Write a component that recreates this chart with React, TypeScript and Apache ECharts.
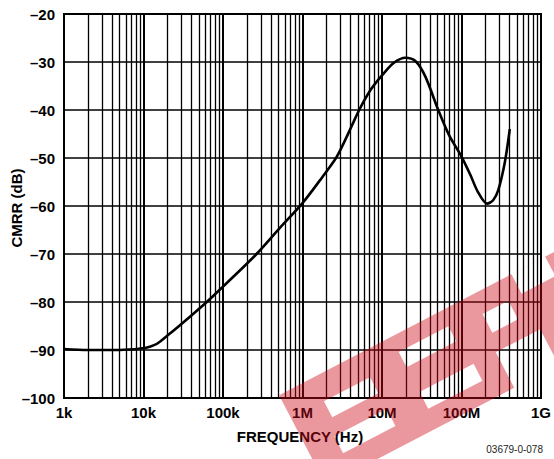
import React, { useEffect, useRef } from "react";
import * as echarts from "echarts";

// ---- data ----
const freqHz = [
  1e3, 2e3, 5e3, 9.2e3, 1.2e4, 1.48e4, 2e4, 2.9e4, 6.25e4, 1e5, 2.64e5, 5.16e5,
  1e6, 1.79e6, 2.64e6, 3.19e6, 4.25e6, 5.16e6, 7.2e6, 1e7, 1.4e7, 1.97e7, 2.63e7,
  3.5e7, 5.1e7, 7e7, 1e8, 1.3e8, 1.6e8, 2.1e8, 2.5e8, 2.9e8, 3.5e8, 4.05e8,
];
const cmrrDb = [
  -89.8, -90.0, -90.0, -89.7, -89.3, -88.7, -87.0, -84.8, -80.0, -76.8, -70.0, -64.6,
  -59.4, -53.9, -50.0, -47.4, -43.0, -40.0, -35.8, -32.8, -30.2, -29.1, -29.8,
  -33.0, -40.0, -45.3, -49.7, -53.6, -57.0, -59.5, -58.8, -56.7, -51.0, -44.0,
];
const decadeValues = [1e3, 1e4, 1e5, 1e6, 1e7, 1e8, 1e9];
const decadeLabels = ["1k", "10k", "100k", "1M", "10M", "100M", "1G"];
const minorMultipliers = [2, 3, 4, 5, 6, 7, 8, 9];
const yTicks = [-100, -90, -80, -70, -60, -50, -40, -30, -20];

const FONT = "Liberation Sans, Arial, Helvetica, sans-serif";

// watermark shape (local coords), outer band with rectangular holes
const wmOuter = [0, -2, 340, 100];
const wmHoles = [
  [37, 24, 89, 42],
  [30, 60, 89, 79],
  [126, 15, 182, 32],
  [126, 60, 187, 79],
  [218, 20, 247, 41],
  [212, 60, 262, 100],
  [262, -2, 300, 20],
];

function buildWatermarkPath() {
  const [a, b, c, d] = wmOuter;
  let p = `M${a} ${b} L${c} ${b} L${c} ${d} L${a} ${d} Z `;
  for (const [u1, v1, u2, v2] of wmHoles) {
    p += `M${u1} ${v1} L${u1} ${v2} L${u2} ${v2} L${u2} ${v1} Z `;
  }
  return p;
}

let registered = false;

export default function App() {
  const ref = useRef<HTMLDivElement>(null);

  useEffect(() => {
    if (!ref.current) return;
    if (!registered) {
      echarts.graphic.registerShape(
        "eepwmark",
        echarts.graphic.extendPath(buildWatermarkPath(), {})
      );
      registered = true;
    }
    const chart = echarts.init(ref.current, undefined, { renderer: "svg" });

    const minorLines: any[] = [];
    for (let i = 0; i < decadeValues.length - 1; i++) {
      for (const m of minorMultipliers) {
        minorLines.push({ xAxis: decadeValues[i] * m });
      }
    }

    const labelFor = (v: number) => {
      const idx = decadeValues.findIndex((d) => Math.abs(Math.log10(d) - Math.log10(v)) < 1e-6);
      return idx >= 0 ? decadeLabels[idx] : "";
    };

    chart.setOption({
      animation: false,
      backgroundColor: "#fff",
      grid: {
        left: 64,
        top: 14,
        right: 11,
        bottom: 61,
        show: true,
        borderColor: "#000",
        borderWidth: 2,
        backgroundColor: "transparent",
      },
      xAxis: {
        type: "log",
        logBase: 10,
        min: 1e3,
        max: 1e9,
        splitNumber: 6,
        axisLine: { show: true, lineStyle: { color: "#000", width: 2 } },
        axisTick: { show: false },
        axisLabel: {
          color: "#000",
          fontFamily: FONT,
          fontWeight: "bold",
          fontSize: 15,
          margin: 7,
          formatter: (v: number) => labelFor(v),
        },
        splitLine: { show: true, lineStyle: { color: "#000", width: 2 } },
      },
      yAxis: {
        type: "value",
        min: -100,
        max: -20,
        interval: 10,
        axisLine: { show: true, lineStyle: { color: "#000", width: 2 } },
        axisTick: { show: false },
        axisLabel: {
          color: "#000",
          fontFamily: FONT,
          fontWeight: "bold",
          fontSize: 15,
          margin: 9,
          formatter: (v: number) => (yTicks.includes(v) ? (v < 0 ? "\u2013" + Math.abs(v) : String(v)) : ""),
        },
        splitLine: { show: true, lineStyle: { color: "#000", width: 1.6 } },
      },
      series: [
        {
          type: "line",
          data: freqHz.map((f, i) => [f, cmrrDb[i]]),
          showSymbol: false,
          smooth: 0.3,
          lineStyle: { color: "#000", width: 2.6 },
          z: 5,
          markLine: {
            silent: true,
            symbol: ["none", "none"],
            label: { show: false },
            lineStyle: { color: "#000", width: 1.3, type: "solid" },
            emphasis: { disabled: true },
            data: minorLines,
          },
        },
      ],
      graphic: [
        {
          type: "text",
          x: 300,
          y: 436,
          silent: true,
          style: {
            text: "FREQUENCY (Hz)",
            fill: "#000",
            font: `bold 15px ${FONT}`,
            textAlign: "center",
            textVerticalAlign: "middle",
          },
        },
        {
          type: "text",
          x: 16,
          y: 208,
          rotation: Math.PI / 2,
          silent: true,
          style: {
            text: "CMRR (dB)",
            fill: "#000",
            font: `bold 15px ${FONT}`,
            textAlign: "center",
            textVerticalAlign: "middle",
          },
        },
        {
          type: "text",
          x: 543,
          y: 449,
          silent: true,
          style: {
            text: "03679-0-078",
            fill: "#222",
            font: `10px ${FONT}`,
            textAlign: "right",
            textVerticalAlign: "middle",
          },
        },
        {
          type: "eepwmark",
          x: 280,
          y: 397,
          rotation: (27.5 * Math.PI) / 180,
          silent: true,
          z: 100,
          style: { fill: "rgba(205,10,25,0.42)" },
        },
      ],
    });

    return () => chart.dispose();
  }, []);

  return (
    <div
      ref={ref}
      style={{ position: "absolute", left: 0, top: 0, width: 554, height: 459 }}
    />
  );
}
